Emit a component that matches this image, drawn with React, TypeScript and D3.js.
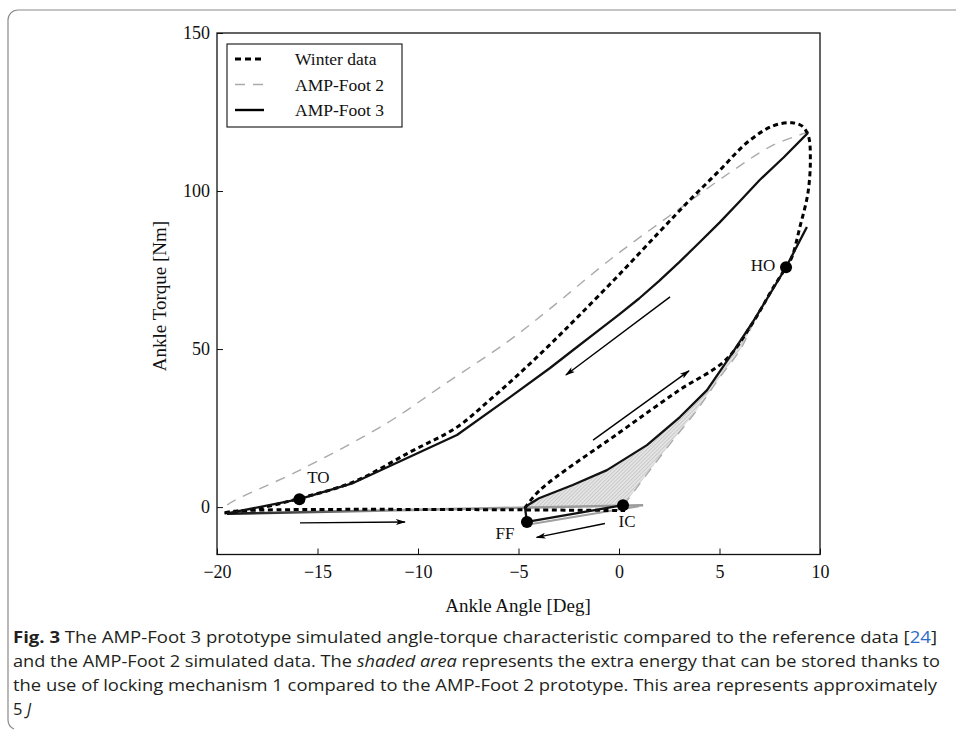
import React, { useEffect, useRef } from "react";
import * as d3 from "d3";

// [angle deg, torque Nm]
const winterData = [
  [-4.68, -0.3], [-3.93, 5.4], [0, 23.5], [3, 37], [5.3, 46.5], [6.67, 58.5],
  [7.66, 69.3], [8.31, 75.9], [8.6, 79.1], [9.0, 88.6], [9.4, 99.4], [9.52, 110],
  [9.42, 117.5], [9.1, 120.6], [8.6, 121.6], [7.66, 120.6], [6.4, 115.5],
  [5, 106.5], [3.5, 97], [2, 87], [0, 73.5], [-2, 60.5], [-3.5, 51], [-5, 42],
  [-6.5, 33.5], [-8.06, 25.3], [-10.4, 17.4], [-13.23, 7.9], [-15.87, 2.8],
  [-17.86, -0.3], [-19.7, -1.9], [-19.0, -1.2], [0.3, -1.1],
];

const foot2Loading = [
  [0.2, 0.6], [0.55, 3.3], [1.54, 11.7], [2.69, 21.2], [3.88, 30.7], [5.02, 41.1],
  [6.02, 49.7], [6.67, 58], [7.66, 69.3], [8.31, 76], [9.35, 89],
];
const foot2Unloading = [
  [9.45, 118.7], [7.66, 114.5], [5.67, 106.5], [3.03, 94.5], [-0.3, 79],
  [-3.58, 62], [-5.57, 52.2], [-8.75, 38.6], [-11.56, 26.5], [-15.87, 11.7],
  [-19.5, 0.6], [-19.7, -1.2],
];
const foot2FlatFoot = [[1.0, 0.3], [-4.5, -5.5]];

const foot3Loading = [
  [0.2, 0.6], [-4.58, -4.7], [-4.68, 0], [-3.98, 2.8], [-2.3, 7], [-0.6, 11.7],
  [1.39, 19.6], [3.03, 28.5], [4.38, 37], [5.4, 46.5], [6.67, 58.7], [7.66, 69],
  [8.31, 75.9], [9.35, 88.6],
];
const foot3Unloading = [
  [9.4, 118.4], [8.2, 110.7], [7, 103.5], [6, 96.7], [5, 90], [4, 83.7], [3, 77.5],
  [2, 71.6], [1, 66], [0, 60.9], [-1, 56], [-2.2, 50.1], [-3.43, 44],
  [-5.42, 34.8], [-8.06, 22.8], [-13.23, 7.6], [-15.9, 2.5], [-19.5, -2],
];
const swing = [[-19.5, -2.1], [1.2, 0.6]];

const events = [
  { name: "TO", x: -15.9, y: 2.5, dx: 19, dy: -16 },
  { name: "HO", x: 8.31, y: 75.9, dx: -23, dy: 4 },
  { name: "FF", x: -4.58, y: -4.7, dx: -22, dy: 17 },
  { name: "IC", x: 0.2, y: 0.6, dx: 4, dy: 22 },
];

const arrows = [
  [[2.54, 66.5], [-2.64, 41.8]],
  [[-1.29, 21.2], [3.48, 43.1]],
  [[-15.87, -5], [-10.65, -4.7]],
  [[-0.7, -5.2], [-4.1, -9.6]],
];

const xTicks = [-20, -15, -10, -5, 0, 5, 10];
const yTicks = [0, 50, 100, 150];

const legendItems = [
  { label: "Winter data", stroke: "#000", width: 3, dash: "6,4" },
  { label: "AMP-Foot 2", stroke: "#aaa", width: 1.4, dash: "10,8" },
  { label: "AMP-Foot 3", stroke: "#000", width: 2.4, dash: "" },
];

const serif = "'Liberation Serif', 'Times New Roman', serif";
const sans = "'Open Sans', 'Noto Sans', sans-serif";

export default function App() {
  const xAxisRef = useRef<SVGGElement>(null);
  const yAxisRef = useRef<SVGGElement>(null);

  const left = 217, right = 820, top = 33, bottom = 554.5;
  const x = d3.scaleLinear().domain([-20, 10]).range([left, right]);
  const y = d3.scaleLinear().domain([-15, 150]).range([bottom, top]);

  const line = d3.line<number[]>().x((d) => x(d[0])).y((d) => y(d[1]));
  const smooth = d3
    .line<number[]>()
    .x((d) => x(d[0]))
    .y((d) => y(d[1]))
    .curve(d3.curveCatmullRom.alpha(0.5));

  useEffect(() => {
    const gx = d3.select(xAxisRef.current!);
    gx.call(
      d3.axisBottom(x).tickValues(xTicks).tickSizeInner(-6).tickSizeOuter(0).tickPadding(11)
    );
    gx.select(".domain").remove();
    gx.selectAll("text").attr("font-family", serif).attr("font-size", 18).attr("fill", "#111");
    gx.selectAll("line").attr("stroke", "#111");

    const gy = d3.select(yAxisRef.current!);
    gy.call(
      d3.axisLeft(y).tickValues(yTicks).tickSizeInner(-6).tickSizeOuter(0).tickPadding(7)
    );
    gy.select(".domain").remove();
    gy.selectAll("text").attr("font-family", serif).attr("font-size", 18).attr("fill", "#111");
    gy.selectAll("line").attr("stroke", "#111");
  }, []);

  // shaded area between AMP-Foot 3 and AMP-Foot 2 loading curves
  const upper = foot3Loading.slice(2).filter((d) => d[0] <= 6.67);
  const lower = foot2Loading.filter((d) => d[0] <= 6.67).slice().reverse();
  const shaded = [...upper, ...lower, upper[0]];

  return (
    <svg
      width={956}
      height={738}
      style={{ position: "absolute", left: 0, top: 0, background: "#fff" }}
    >
      <defs>
        <pattern id="hatch" width={2.6} height={2.6} patternUnits="userSpaceOnUse" patternTransform="rotate(45)">
          <rect width={2.6} height={2.6} fill="#e4e4e4" />
          <line x1={0} y1={0} x2={0} y2={2.6} stroke="#a8a8a8" strokeWidth={0.8} />
        </pattern>
        <linearGradient id="swingGrad" gradientUnits="userSpaceOnUse" x1={x(-19.5)} y1={0} x2={x(-11)} y2={0}>
          <stop offset="0" stopColor="#111" />
          <stop offset="1" stopColor="#9a9a9a" />
        </linearGradient>
        <marker id="arrowHead" viewBox="0 0 10 6" refX={9} refY={3} markerWidth={10} markerHeight={6} markerUnits="userSpaceOnUse" orient="auto">
          <path d="M0,0 L10,3 L0,6 L2.5,3 Z" fill="#000" />
        </marker>
      </defs>

      {/* figure box */}
      <path d="M 960 10 H 18 A 10 10 0 0 0 8 20 V 720 A 10 10 0 0 0 14 729" fill="none" stroke="#8a8a8a" strokeWidth={1.2} />

      <path d={line(shaded) || ""} fill="url(#hatch)" stroke="none" />

      {/* swing phase */}
      <path d={line(swing) || ""} fill="none" stroke="url(#swingGrad)" strokeWidth={2.6} />

      {/* AMP-Foot 2 */}
      <path d={line(foot2FlatFoot) || ""} fill="none" stroke="#a0a0a0" strokeWidth={2} />
      <path d={smooth(foot2Loading) || ""} fill="none" stroke="#aaa" strokeWidth={1.4} strokeDasharray="10,8" />
      <path d={smooth(foot2Unloading) || ""} fill="none" stroke="#aaa" strokeWidth={1.4} strokeDasharray="10,8" />

      {/* Winter data */}
      <path d={smooth(winterData) || ""} fill="none" stroke="#000" strokeWidth={3} strokeDasharray="5,3.6" />

      {/* AMP-Foot 3 */}
      <path d={line(foot3Loading) || ""} fill="none" stroke="#111" strokeWidth={2.3} strokeLinejoin="round" />
      <path d={line(foot3Unloading) || ""} fill="none" stroke="#111" strokeWidth={2.3} strokeLinejoin="round" />

      {/* direction arrows */}
      {arrows.map((a, i) => (
        <line key={i} x1={x(a[0][0])} y1={y(a[0][1])} x2={x(a[1][0])} y2={y(a[1][1])} stroke="#000" strokeWidth={1.4} markerEnd="url(#arrowHead)" />
      ))}

      {/* gait events */}
      {events.map((e) => (
        <g key={e.name}>
          <circle cx={x(e.x)} cy={y(e.y)} r={6} fill="#000" />
          <text x={x(e.x) + e.dx} y={y(e.y) + e.dy} textAnchor="middle" fontFamily={serif} fontSize={17} fill="#111">
            {e.name}
          </text>
        </g>
      ))}

      {/* frame and axes */}
      <rect x={left} y={top} width={right - left} height={bottom - top} fill="none" stroke="#111" strokeWidth={1.3} />
      <g ref={xAxisRef} transform={`translate(0,${bottom})`} />
      <g ref={yAxisRef} transform={`translate(${left},0)`} />

      <text x={518} y={612} textAnchor="middle" fontFamily={serif} fontSize={19} fill="#111">
        Ankle Angle [Deg]
      </text>
      <text transform={`translate(166,296) rotate(-90)`} textAnchor="middle" fontFamily={serif} fontSize={19} fill="#111">
        Ankle Torque [Nm]
      </text>

      {/* legend */}
      <rect x={227} y={44} width={175} height={83} fill="#fff" stroke="#111" strokeWidth={1.1} />
      {legendItems.map((l, i) => {
        const cy = 59 + i * 25.5;
        return (
          <g key={l.label}>
            <line x1={235} x2={264} y1={cy} y2={cy} stroke={l.stroke} strokeWidth={l.width} strokeDasharray={l.dash} />
            <text x={295} y={cy + 6} fontFamily={serif} fontSize={17.5} fill="#111">
              {l.label}
            </text>
          </g>
        );
      })}

      {/* caption */}
      <g fontFamily={sans} fontSize={16.5} fill="#231f20">
        <text x={13} y={643} textLength={924} lengthAdjust="spacingAndGlyphs">
          <tspan fontWeight="bold">Fig. 3</tspan>
          <tspan>{"  The AMP-Foot 3 prototype simulated angle-torque characteristic compared to the reference data ["}</tspan>
          <tspan fill="#2b6cc4">24</tspan>
          <tspan>]</tspan>
        </text>
        <text x={13} y={667} textLength={927} lengthAdjust="spacingAndGlyphs">
          <tspan>and the AMP-Foot 2 simulated data. The </tspan>
          <tspan fontStyle="italic">shaded area</tspan>
          <tspan> represents the extra energy that can be stored thanks to</tspan>
        </text>
        <text x={13} y={691} textLength={924} lengthAdjust="spacingAndGlyphs">
          the use of locking mechanism 1 compared to the AMP-Foot 2 prototype. This area represents approximately
        </text>
        <text x={13} y={715}>
          <tspan>5 </tspan>
          <tspan fontStyle="italic">J</tspan>
        </text>
      </g>
    </svg>
  );
}
